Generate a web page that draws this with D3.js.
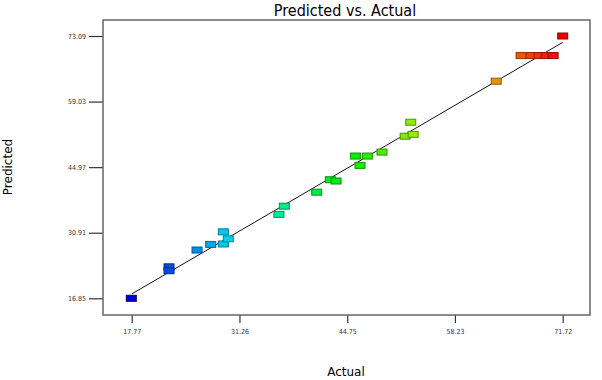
<!DOCTYPE html>
<html>
<head>
<meta charset="utf-8">
<script src="https://cdn.jsdelivr.net/npm/d3@7"></script>
<style>
    body { margin: 0; background: #fff; }
    svg text { font-family: "DejaVu Sans", sans-serif; }
</style>
</head>
<body>
<div id="chart"></div>
<script>
// tick labels
const xTicks = [17.77, 31.26, 44.75, 58.23, 71.72];
const yTicks = [16.85, 30.91, 44.97, 59.03, 73.09];

// design points (actual, predicted)
const actual = [17.72, 22.44, 22.44, 25.95, 27.66, 29.24, 29.24, 29.86, 36.20, 36.87,
    40.93, 42.63, 43.35, 45.77, 46.35, 47.27, 49.10, 52.00, 53.00, 52.70,
    63.40, 66.51, 67.76, 68.76, 69.64, 70.52, 71.72];
const predicted = [16.85, 23.60, 22.76, 27.20, 28.40, 31.10, 28.50, 29.60, 34.85, 36.60,
    39.60, 42.27, 42.00, 47.35, 45.35, 47.35, 48.20, 51.60, 52.00, 54.60,
    63.40, 68.90, 68.90, 68.90, 68.90, 68.90, 73.09];

const W = 602, H = 380;
const plot = {left: 103, right: 590, top: 20, bottom: 315};

const svg = d3.select("#chart").append("svg")
    .attr("width", W)
    .attr("height", H);

const x = d3.scaleLinear()
    .domain([xTicks[0], xTicks[xTicks.length - 1]])
    .range([plot.left + 28.7, plot.right - 27.3]);

const y = d3.scaleLinear()
    .domain([yTicks[0], yTicks[yTicks.length - 1]])
    .range([plot.bottom - 16.7, plot.top + 16]);

// colour by actual value: dark blue -> cyan -> green -> yellow -> red
const color = v => {
    let t = (v - xTicks[0]) / (xTicks[xTicks.length - 1] - xTicks[0]);
    t = Math.max(0, Math.min(1, t));
    let l = 0.40 + 0.06 * Math.min(1, t * 6);
    return d3.hsl(240 * (1 - t), 1, l).toString();
};

// axes
const xAxis = d3.axisBottom(x).tickValues(xTicks).tickSize(8).tickSizeOuter(0)
    .tickFormat(d3.format(".2f"));
const yAxis = d3.axisLeft(y).tickValues(yTicks).tickSize(14).tickSizeOuter(0)
    .tickFormat(d3.format(".2f"));

const gx = svg.append("g")
    .attr("transform", `translate(0,${plot.bottom})`)
    .call(xAxis);
const gy = svg.append("g")
    .attr("transform", `translate(${plot.left},0)`)
    .call(yAxis);

[gx, gy].forEach(g => {
    g.select(".domain").remove();
    g.selectAll(".tick line").attr("stroke", "#333").attr("stroke-width", 1.2);
    g.selectAll(".tick text")
        .attr("fill", "#333")
        .style("font-size", "7px")
        .style("font-family", "DejaVu Sans Condensed, DejaVu Sans, sans-serif");
});
gx.selectAll(".tick text").attr("y", 14);
gy.selectAll(".tick text").attr("x", -17);

// frame
svg.append("rect")
    .attr("x", plot.left)
    .attr("y", plot.top)
    .attr("width", plot.right - plot.left)
    .attr("height", plot.bottom - plot.top)
    .attr("fill", "none")
    .attr("stroke", "#666")
    .attr("stroke-width", 1.5);

// 45 degree line
const lo = xTicks[0], hi = xTicks[xTicks.length - 1];
svg.append("line")
    .attr("x1", x(lo)).attr("y1", y(lo))
    .attr("x2", x(hi)).attr("y2", y(hi))
    .attr("stroke", "#111")
    .attr("stroke-width", 1);

// points
const pts = actual.map((a, i) => ({a: a, p: predicted[i]}));
const rw = 10, rh = 6;
svg.append("g").selectAll("rect")
    .data(pts)
    .enter().append("rect")
    .attr("x", d => x(d.a) - rw / 2)
    .attr("y", d => y(d.p) - rh / 2)
    .attr("width", rw)
    .attr("height", rh)
    .attr("fill", d => color(d.a))
    .attr("stroke", d => d3.hsl(color(d.a)).darker(1.3))
    .attr("stroke-width", 1);

// titles
svg.append("text")
    .attr("x", 345)
    .attr("y", 16)
    .attr("text-anchor", "middle")
    .style("font-size", "16px")
    .style("font-family", "DejaVu Sans Condensed, DejaVu Sans, sans-serif")
    .text("Predicted vs. Actual");

svg.append("text")
    .attr("x", 346)
    .attr("y", 376)
    .attr("text-anchor", "middle")
    .style("font-size", "12px")
    .text("Actual");

svg.append("text")
    .attr("transform", "translate(12,167) rotate(-90)")
    .attr("text-anchor", "middle")
    .style("font-size", "12px")
    .text("Predicted");
</script>
</body>
</html>
